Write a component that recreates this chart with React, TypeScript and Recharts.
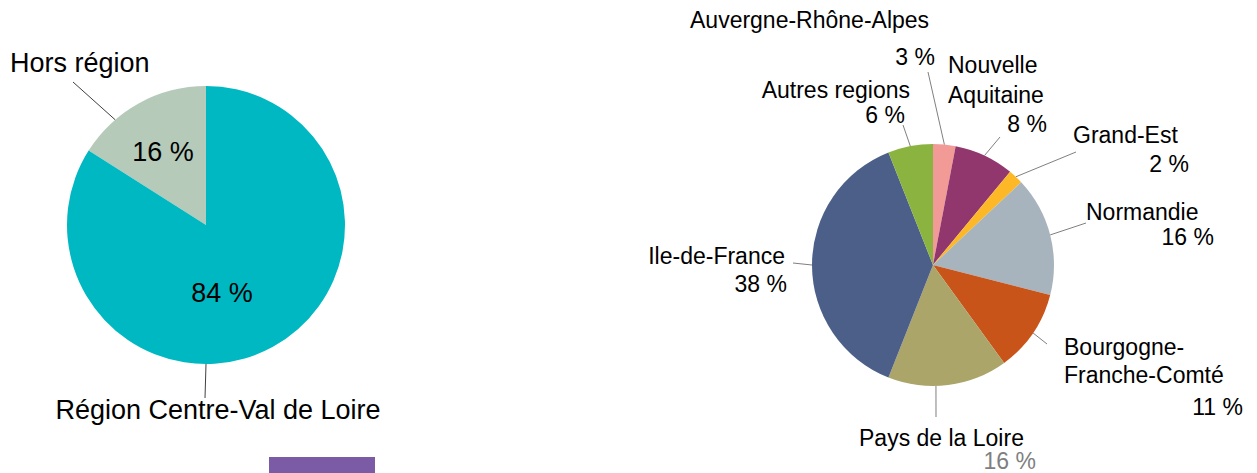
import React from 'react';
import { PieChart, Pie, Cell } from 'recharts';

// Origine des participants (camembert de gauche)
const originNames = ['Hors région', 'Région Centre-Val de Loire'];
const originValues = [16, 84];
const originColors = ['#B5CAB8', '#00B8C2'];

// Répartition des participants hors région (camembert de droite)
const regionNames = [
  'Auvergne-Rhône-Alpes',
  'Nouvelle\nAquitaine',
  'Grand-Est',
  'Normandie',
  'Bourgogne-\nFranche-Comté',
  'Pays de la Loire',
  'Ile-de-France',
  'Autres regions',
];
const regionValues = [3, 8, 2, 16, 11, 16, 38, 6];
const regionColors = ['#F29A96', '#92366E', '#FDB827', '#A7B4BE', '#C8541A', '#ABA56A', '#4B5F88', '#8BB33F'];

const originData = originNames.map((name, i) => ({ name, value: originValues[i] }));
const regionData = regionNames.map((name, i) => ({ name, value: regionValues[i] }));

const FONT = '"Liberation Sans", Arial, sans-serif';
const RADIAN = Math.PI / 180;

type Pos = { x: number; y: number; anchor: 'start' | 'middle' | 'end' };
type LabelLayout = {
  name: Pos;
  value: Pos;
  leader: { x: number; y: number };
  shift?: number;
  lh?: number;
  valueColor?: string;
};

// label placement, offsets from the pie centre
const originLayout: LabelLayout[] = [
  { name: { x: -196, y: -153, anchor: 'start' }, value: { x: -43, y: -64, anchor: 'middle' }, leader: { x: -133, y: -143 }, shift: 12 },
  { name: { x: 12, y: 194, anchor: 'middle' }, value: { x: 16, y: 77, anchor: 'middle' }, leader: { x: -1, y: 173 }, shift: -28.8 },
];

const regionLayout: LabelLayout[] = [
  { name: { x: -243, y: -237, anchor: 'start' }, value: { x: 2, y: -200, anchor: 'end' }, leader: { x: -5, y: -193 } },
  { name: { x: 15, y: -192, anchor: 'start' }, value: { x: 114, y: -133, anchor: 'end' }, leader: { x: 67, y: -128 }, lh: 30 },
  { name: { x: 140, y: -122, anchor: 'start' }, value: { x: 256, y: -93, anchor: 'end' }, leader: { x: 143, y: -113 } },
  { name: { x: 153, y: -45, anchor: 'start' }, value: { x: 281, y: -20, anchor: 'end' }, leader: { x: 153, y: -42 } },
  { name: { x: 131, y: 90, anchor: 'start' }, value: { x: 310, y: 150, anchor: 'end' }, leader: { x: 114, y: 79 }, lh: 28 },
  { name: { x: -74, y: 181, anchor: 'start' }, value: { x: 103, y: 204, anchor: 'end' }, leader: { x: 3, y: 152 }, shift: -5.8, valueColor: '#7F7F7F' },
  { name: { x: -148, y: -1, anchor: 'end' }, value: { x: -146, y: 27, anchor: 'end' }, leader: { x: -140, y: -2 } },
  { name: { x: -23, y: -167, anchor: 'end' }, value: { x: -28, y: -142, anchor: 'end' }, leader: { x: -30, y: -140 } },
];

const makeLabel = (layout: LabelLayout[], names: string[], fontSize: number, lineColor: string) => (props: any) => {
  const { cx, cy, midAngle, outerRadius, index, value } = props;
  const l = layout[index];
  const a = (midAngle + (l.shift || 0)) * RADIAN;
  const sx = cx + outerRadius * Math.cos(-a);
  const sy = cy + outerRadius * Math.sin(-a);
  const lines = names[index].split('\n');
  const lh = l.lh || fontSize * 1.2;
  return (
    <g>
      <line x1={sx} y1={sy} x2={cx + l.leader.x} y2={cy + l.leader.y} stroke={lineColor} strokeWidth={1} />
      {lines.map((t, i) => (
        <text
          key={i}
          x={cx + l.name.x}
          y={cy + l.name.y + i * lh}
          textAnchor={l.name.anchor}
          fontSize={fontSize}
          fontFamily={FONT}
          fill="#000"
        >
          {t}
        </text>
      ))}
      <text
        x={cx + l.value.x}
        y={cy + l.value.y}
        textAnchor={l.value.anchor}
        fontSize={fontSize}
        fontFamily={FONT}
        fill={l.valueColor || '#000'}
      >
        {`${value} %`}
      </text>
    </g>
  );
};

export default function App() {
  return (
    <div style={{ position: 'fixed', left: 0, top: 0, width: 1257, height: 473, background: '#fff', overflow: 'hidden' }}>
      <PieChart width={1257} height={473} margin={{ top: 0, right: 0, bottom: 0, left: 0 }}>
        <Pie
          data={originData}
          dataKey="value"
          nameKey="name"
          cx={206}
          cy={225}
          outerRadius={139}
          startAngle={90}
          endAngle={450}
          stroke="none"
          labelLine={false}
          label={makeLabel(originLayout, originNames, 27, '#404040')}
          isAnimationActive={false}
        >
          {originData.map((d, i) => (
            <Cell key={d.name} fill={originColors[i]} />
          ))}
        </Pie>
        <Pie
          data={regionData}
          dataKey="value"
          nameKey="name"
          cx={933}
          cy={265}
          outerRadius={121}
          startAngle={90}
          endAngle={-270}
          stroke="none"
          labelLine={false}
          label={makeLabel(regionLayout, regionNames, 23, '#7F7F7F')}
          isAnimationActive={false}
        >
          {regionData.map((d, i) => (
            <Cell key={d.name} fill={regionColors[i]} />
          ))}
        </Pie>
      </PieChart>
      <div style={{ position: 'absolute', left: 269, top: 457, width: 106, height: 16, background: '#7B5AA6' }} />
    </div>
  );
}
